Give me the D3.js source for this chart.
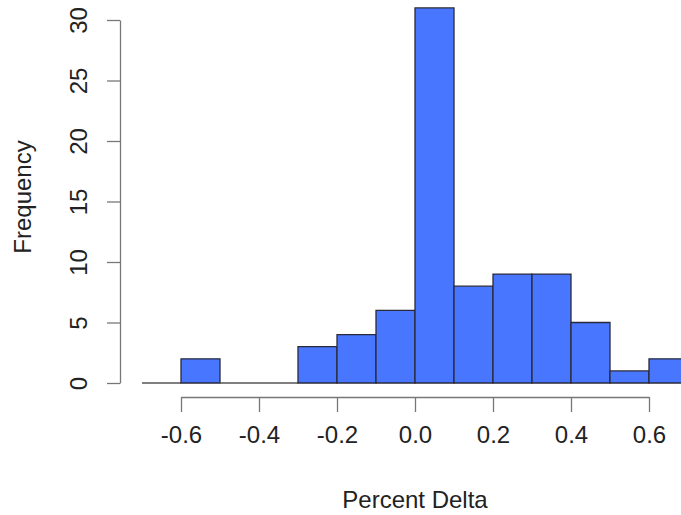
<!DOCTYPE html>
<html><head><meta charset="utf-8">
<script src="https://cdn.jsdelivr.net/npm/d3@7"></script>
<style>body{margin:0;background:#fff}svg{display:block}</style>
</head><body>
<svg id="c" width="681" height="515"></svg>
<script>
const binStarts = [-0.7,-0.6,-0.5,-0.4,-0.3,-0.2,-0.1,0.0,0.1,0.2,0.3,0.4,0.5,0.6];
const binWidth = 0.1;
const counts = [0,2,0,0,3,4,6,31,8,9,9,5,1,2];
const xTicks = [-0.6,-0.4,-0.2,0.0,0.2,0.4,0.6];
const yTicks = [0,5,10,15,20,25,30];
const xLabel = "Percent Delta";
const yLabel = "Frequency";

const svg = d3.select("#c");
const font = "'Liberation Sans', Arial, sans-serif";
const fs = 24;
const x = d3.scaleLinear().domain([-0.6, 0.6]).range([181, 649]);
const y = d3.scaleLinear().domain([0, 30]).range([383, 20]);

// bars drawn as closed paths so zero-height bins still show as a line
svg.append("g").selectAll("path").data(binStarts.map((s,i)=>({s, c:counts[i]})))
  .join("path")
  .attr("d", d => {
    const p = d3.path();
    p.rect(x(d.s), y(d.c), x(d.s + binWidth) - x(d.s), y(0) - y(d.c));
    return p.toString();
  })
  .attr("fill", "#4876FF")
  .attr("stroke", d => d.c === 0 ? "#555" : "#2a2a3a")
  .attr("stroke-width", 1.3);

// x axis
const xa = svg.append("g").attr("transform", "translate(0,397)")
  .call(d3.axisBottom(x).tickValues(xTicks).tickSize(15).tickSizeOuter(0).tickPadding(14));
xa.select(".domain").attr("stroke", "#777").attr("stroke-width", 1.3);
xa.selectAll(".tick line").attr("stroke", "#777").attr("stroke-width", 1.3);
xa.selectAll(".tick text").attr("font-family", font).attr("font-size", fs).attr("fill", "#222")
  .text(d => (d < 0 ? "-" : "") + Math.abs(d).toFixed(1));

// y axis
const ya = svg.append("g").attr("transform", "translate(120,0)")
  .call(d3.axisLeft(y).tickValues(yTicks).tickSize(13).tickSizeOuter(0));
ya.select(".domain").attr("stroke", "#777").attr("stroke-width", 1.3);
ya.selectAll(".tick line").attr("stroke", "#777").attr("stroke-width", 1.3);
ya.selectAll(".tick text")
  .attr("font-family", font).attr("font-size", fs).attr("fill", "#222")
  .attr("x", null).attr("dy", null)
  .attr("text-anchor", "middle")
  .attr("transform", "translate(-42,0) rotate(-90)")
  .attr("dominant-baseline", "central");

svg.append("text").attr("x", 415).attr("y", 499).attr("text-anchor", "middle")
  .attr("dominant-baseline", "central")
  .attr("font-family", font).attr("font-size", fs).attr("fill", "#222").text(xLabel);
svg.append("text").attr("transform", "translate(22,197) rotate(-90)").attr("text-anchor", "middle")
  .attr("dominant-baseline", "central")
  .attr("font-family", font).attr("font-size", fs).attr("fill", "#222").text(yLabel);
</script>
</body></html>
